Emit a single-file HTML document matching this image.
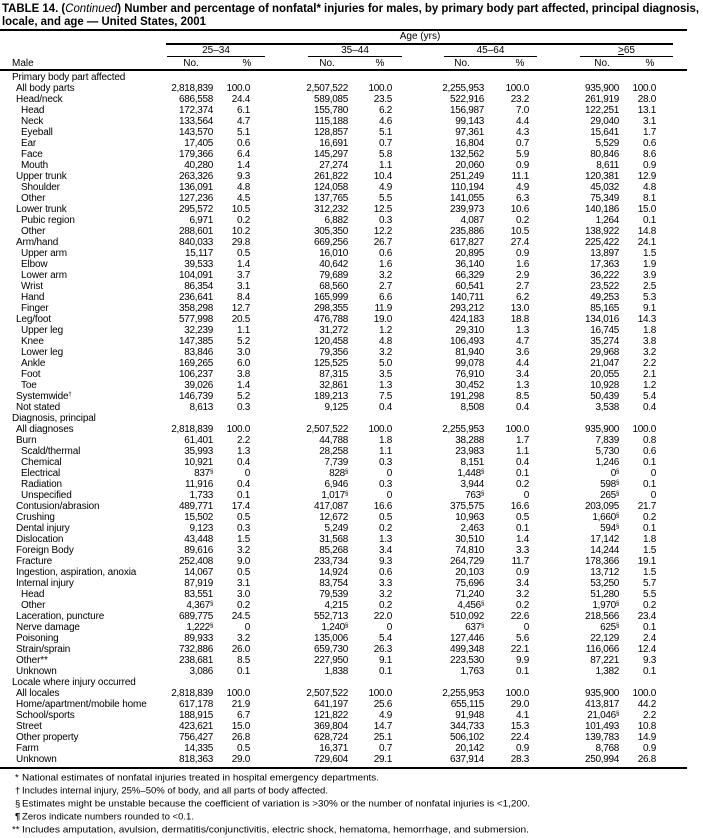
<!DOCTYPE html>
<html><head><meta charset="utf-8">
<style>
*{margin:0;padding:0;box-sizing:border-box}
body{width:703px;height:836px;background:#fff;position:relative;overflow:hidden;font-family:"Liberation Sans",Arial,sans-serif;color:#000}
.a{position:absolute;white-space:nowrap;font-size:10px;line-height:11px}
.rule{position:absolute;background:#000}
#rows{position:absolute;left:0;top:71.5px;width:703px}
.r{height:11px;line-height:11px;position:relative;font-size:10px;white-space:nowrap}
.r span{position:absolute;top:0;text-align:right;letter-spacing:-0.3px}
.r .l{left:12px;text-align:left;letter-spacing:-0.15px}
.r.i1 .l{left:16px}.r.i2 .l{left:21px}
.r span:nth-child(2){right:490px}
.r span:nth-child(3){right:453px}
.r span:nth-child(4){right:355px}
.r span:nth-child(5){right:311px}
.r span:nth-child(6){right:219px}
.r span:nth-child(7){right:174px}
.r span:nth-child(8){right:84px}
.r span:nth-child(9){right:47px}
sup{font-size:6px;vertical-align:top;position:relative;top:-1px}
</style></head><body>
<svg width="703" height="30" style="position:absolute;left:0;top:0">
<text x="2" y="12" font-family="Liberation Sans, Arial, sans-serif" font-size="11.5" font-weight="bold" textLength="697" lengthAdjust="spacingAndGlyphs">TABLE 14. (<tspan font-style="italic" font-weight="normal">Continued</tspan>) Number and percentage of nonfatal* injuries for males, by primary body part affected, principal diagnosis,</text>
<text x="2" y="25" font-family="Liberation Sans, Arial, sans-serif" font-size="11.5" font-weight="bold" textLength="204" lengthAdjust="spacingAndGlyphs">locale, and age — United States, 2001</text>
</svg>
<div class="rule" style="left:0;top:29px;width:687px;height:2px"></div>
<div class="a" style="left:380px;top:31px;width:80px;text-align:center">Age (yrs)</div>
<div class="rule" style="left:166px;top:43px;width:507px;height:1.5px"></div>
<div class="a" style="left:167px;top:44.5px;width:98px;text-align:center">25–34</div>
<div class="a" style="left:308px;top:44.5px;width:94px;text-align:center">35–44</div>
<div class="a" style="left:444px;top:44.5px;width:93px;text-align:center">45–64</div>
<div class="a" style="left:580px;top:44.5px;width:93px;text-align:center"><u>&gt;</u>65</div>
<div class="rule" style="left:167px;top:55.5px;width:98px;height:1.5px"></div>
<div class="rule" style="left:308px;top:55.5px;width:94px;height:1.5px"></div>
<div class="rule" style="left:444px;top:55.5px;width:93px;height:1.5px"></div>
<div class="rule" style="left:580px;top:55.5px;width:93px;height:1.5px"></div>
<div class="a" style="left:12px;top:57.5px">Male</div>
<div class="a" style="left:176px;top:57.5px;width:30px;text-align:center">No.</div>
<div class="a" style="left:237px;top:57.5px;width:20px;text-align:center">%</div>
<div class="a" style="left:312px;top:57.5px;width:30px;text-align:center">No.</div>
<div class="a" style="left:370px;top:57.5px;width:20px;text-align:center">%</div>
<div class="a" style="left:447px;top:57.5px;width:30px;text-align:center">No.</div>
<div class="a" style="left:510px;top:57.5px;width:20px;text-align:center">%</div>
<div class="a" style="left:587px;top:57.5px;width:30px;text-align:center">No.</div>
<div class="a" style="left:640px;top:57.5px;width:20px;text-align:center">%</div>
<div class="rule" style="left:0;top:68.5px;width:687px;height:2px"></div>

<div id="rows">
<div class="r"><span class="l">Primary body part affected</span></div>
<div class="r i1"><span class="l">All body parts</span><span>2,818,839</span><span>100.0</span><span>2,507,522</span><span>100.0</span><span>2,255,953</span><span>100.0</span><span>935,900</span><span>100.0</span></div>
<div class="r i1"><span class="l">Head/neck</span><span>686,558</span><span>24.4</span><span>589,085</span><span>23.5</span><span>522,916</span><span>23.2</span><span>261,919</span><span>28.0</span></div>
<div class="r i2"><span class="l">Head</span><span>172,374</span><span>6.1</span><span>155,780</span><span>6.2</span><span>156,987</span><span>7.0</span><span>122,251</span><span>13.1</span></div>
<div class="r i2"><span class="l">Neck</span><span>133,564</span><span>4.7</span><span>115,188</span><span>4.6</span><span>99,143</span><span>4.4</span><span>29,040</span><span>3.1</span></div>
<div class="r i2"><span class="l">Eyeball</span><span>143,570</span><span>5.1</span><span>128,857</span><span>5.1</span><span>97,361</span><span>4.3</span><span>15,641</span><span>1.7</span></div>
<div class="r i2"><span class="l">Ear</span><span>17,405</span><span>0.6</span><span>16,691</span><span>0.7</span><span>16,804</span><span>0.7</span><span>5,529</span><span>0.6</span></div>
<div class="r i2"><span class="l">Face</span><span>179,366</span><span>6.4</span><span>145,297</span><span>5.8</span><span>132,562</span><span>5.9</span><span>80,846</span><span>8.6</span></div>
<div class="r i2"><span class="l">Mouth</span><span>40,280</span><span>1.4</span><span>27,274</span><span>1.1</span><span>20,060</span><span>0.9</span><span>8,611</span><span>0.9</span></div>
<div class="r i1"><span class="l">Upper trunk</span><span>263,326</span><span>9.3</span><span>261,822</span><span>10.4</span><span>251,249</span><span>11.1</span><span>120,381</span><span>12.9</span></div>
<div class="r i2"><span class="l">Shoulder</span><span>136,091</span><span>4.8</span><span>124,058</span><span>4.9</span><span>110,194</span><span>4.9</span><span>45,032</span><span>4.8</span></div>
<div class="r i2"><span class="l">Other</span><span>127,236</span><span>4.5</span><span>137,765</span><span>5.5</span><span>141,055</span><span>6.3</span><span>75,349</span><span>8.1</span></div>
<div class="r i1"><span class="l">Lower trunk</span><span>295,572</span><span>10.5</span><span>312,232</span><span>12.5</span><span>239,973</span><span>10.6</span><span>140,186</span><span>15.0</span></div>
<div class="r i2"><span class="l">Pubic region</span><span>6,971</span><span>0.2</span><span>6,882</span><span>0.3</span><span>4,087</span><span>0.2</span><span>1,264</span><span>0.1</span></div>
<div class="r i2"><span class="l">Other</span><span>288,601</span><span>10.2</span><span>305,350</span><span>12.2</span><span>235,886</span><span>10.5</span><span>138,922</span><span>14.8</span></div>
<div class="r i1"><span class="l">Arm/hand</span><span>840,033</span><span>29.8</span><span>669,256</span><span>26.7</span><span>617,827</span><span>27.4</span><span>225,422</span><span>24.1</span></div>
<div class="r i2"><span class="l">Upper arm</span><span>15,117</span><span>0.5</span><span>16,010</span><span>0.6</span><span>20,895</span><span>0.9</span><span>13,897</span><span>1.5</span></div>
<div class="r i2"><span class="l">Elbow</span><span>39,533</span><span>1.4</span><span>40,642</span><span>1.6</span><span>36,140</span><span>1.6</span><span>17,363</span><span>1.9</span></div>
<div class="r i2"><span class="l">Lower arm</span><span>104,091</span><span>3.7</span><span>79,689</span><span>3.2</span><span>66,329</span><span>2.9</span><span>36,222</span><span>3.9</span></div>
<div class="r i2"><span class="l">Wrist</span><span>86,354</span><span>3.1</span><span>68,560</span><span>2.7</span><span>60,541</span><span>2.7</span><span>23,522</span><span>2.5</span></div>
<div class="r i2"><span class="l">Hand</span><span>236,641</span><span>8.4</span><span>165,999</span><span>6.6</span><span>140,711</span><span>6.2</span><span>49,253</span><span>5.3</span></div>
<div class="r i2"><span class="l">Finger</span><span>358,298</span><span>12.7</span><span>298,355</span><span>11.9</span><span>293,212</span><span>13.0</span><span>85,165</span><span>9.1</span></div>
<div class="r i1"><span class="l">Leg/foot</span><span>577,998</span><span>20.5</span><span>476,788</span><span>19.0</span><span>424,183</span><span>18.8</span><span>134,016</span><span>14.3</span></div>
<div class="r i2"><span class="l">Upper leg</span><span>32,239</span><span>1.1</span><span>31,272</span><span>1.2</span><span>29,310</span><span>1.3</span><span>16,745</span><span>1.8</span></div>
<div class="r i2"><span class="l">Knee</span><span>147,385</span><span>5.2</span><span>120,458</span><span>4.8</span><span>106,493</span><span>4.7</span><span>35,274</span><span>3.8</span></div>
<div class="r i2"><span class="l">Lower leg</span><span>83,846</span><span>3.0</span><span>79,356</span><span>3.2</span><span>81,940</span><span>3.6</span><span>29,968</span><span>3.2</span></div>
<div class="r i2"><span class="l">Ankle</span><span>169,265</span><span>6.0</span><span>125,525</span><span>5.0</span><span>99,078</span><span>4.4</span><span>21,047</span><span>2.2</span></div>
<div class="r i2"><span class="l">Foot</span><span>106,237</span><span>3.8</span><span>87,315</span><span>3.5</span><span>76,910</span><span>3.4</span><span>20,055</span><span>2.1</span></div>
<div class="r i2"><span class="l">Toe</span><span>39,026</span><span>1.4</span><span>32,861</span><span>1.3</span><span>30,452</span><span>1.3</span><span>10,928</span><span>1.2</span></div>
<div class="r i1"><span class="l">Systemwide<sup>†</sup></span><span>146,739</span><span>5.2</span><span>189,213</span><span>7.5</span><span>191,298</span><span>8.5</span><span>50,439</span><span>5.4</span></div>
<div class="r i1"><span class="l">Not stated</span><span>8,613</span><span>0.3</span><span>9,125</span><span>0.4</span><span>8,508</span><span>0.4</span><span>3,538</span><span>0.4</span></div>
<div class="r"><span class="l">Diagnosis, principal</span></div>
<div class="r i1"><span class="l">All diagnoses</span><span>2,818,839</span><span>100.0</span><span>2,507,522</span><span>100.0</span><span>2,255,953</span><span>100.0</span><span>935,900</span><span>100.0</span></div>
<div class="r i1"><span class="l">Burn</span><span>61,401</span><span>2.2</span><span>44,788</span><span>1.8</span><span>38,288</span><span>1.7</span><span>7,839</span><span>0.8</span></div>
<div class="r i2"><span class="l">Scald/thermal</span><span>35,993</span><span>1.3</span><span>28,258</span><span>1.1</span><span>23,983</span><span>1.1</span><span>5,730</span><span>0.6</span></div>
<div class="r i2"><span class="l">Chemical</span><span>10,921</span><span>0.4</span><span>7,739</span><span>0.3</span><span>8,151</span><span>0.4</span><span>1,246</span><span>0.1</span></div>
<div class="r i2"><span class="l">Electrical</span><span>837<sup>§</sup></span><span>0</span><span>828<sup>§</sup></span><span>0</span><span>1,448<sup>§</sup></span><span>0.1</span><span>0<sup>§</sup></span><span>0</span></div>
<div class="r i2"><span class="l">Radiation</span><span>11,916</span><span>0.4</span><span>6,946</span><span>0.3</span><span>3,944</span><span>0.2</span><span>598<sup>§</sup></span><span>0.1</span></div>
<div class="r i2"><span class="l">Unspecified</span><span>1,733</span><span>0.1</span><span>1,017<sup>§</sup></span><span>0</span><span>763<sup>§</sup></span><span>0</span><span>265<sup>§</sup></span><span>0</span></div>
<div class="r i1"><span class="l">Contusion/abrasion</span><span>489,771</span><span>17.4</span><span>417,087</span><span>16.6</span><span>375,575</span><span>16.6</span><span>203,095</span><span>21.7</span></div>
<div class="r i1"><span class="l">Crushing</span><span>15,502</span><span>0.5</span><span>12,672</span><span>0.5</span><span>10,963</span><span>0.5</span><span>1,660<sup>§</sup></span><span>0.2</span></div>
<div class="r i1"><span class="l">Dental injury</span><span>9,123</span><span>0.3</span><span>5,249</span><span>0.2</span><span>2,463</span><span>0.1</span><span>594<sup>§</sup></span><span>0.1</span></div>
<div class="r i1"><span class="l">Dislocation</span><span>43,448</span><span>1.5</span><span>31,568</span><span>1.3</span><span>30,510</span><span>1.4</span><span>17,142</span><span>1.8</span></div>
<div class="r i1"><span class="l">Foreign Body</span><span>89,616</span><span>3.2</span><span>85,268</span><span>3.4</span><span>74,810</span><span>3.3</span><span>14,244</span><span>1.5</span></div>
<div class="r i1"><span class="l">Fracture</span><span>252,408</span><span>9.0</span><span>233,734</span><span>9.3</span><span>264,729</span><span>11.7</span><span>178,366</span><span>19.1</span></div>
<div class="r i1"><span class="l">Ingestion, aspiration, anoxia</span><span>14,067</span><span>0.5</span><span>14,924</span><span>0.6</span><span>20,103</span><span>0.9</span><span>13,712</span><span>1.5</span></div>
<div class="r i1"><span class="l">Internal injury</span><span>87,919</span><span>3.1</span><span>83,754</span><span>3.3</span><span>75,696</span><span>3.4</span><span>53,250</span><span>5.7</span></div>
<div class="r i2"><span class="l">Head</span><span>83,551</span><span>3.0</span><span>79,539</span><span>3.2</span><span>71,240</span><span>3.2</span><span>51,280</span><span>5.5</span></div>
<div class="r i2"><span class="l">Other</span><span>4,367<sup>§</sup></span><span>0.2</span><span>4,215</span><span>0.2</span><span>4,456<sup>§</sup></span><span>0.2</span><span>1,970<sup>§</sup></span><span>0.2</span></div>
<div class="r i1"><span class="l">Laceration, puncture</span><span>689,775</span><span>24.5</span><span>552,713</span><span>22.0</span><span>510,092</span><span>22.6</span><span>218,566</span><span>23.4</span></div>
<div class="r i1"><span class="l">Nerve damage</span><span>1,222<sup>§</sup></span><span>0</span><span>1,240<sup>§</sup></span><span>0</span><span>637<sup>§</sup></span><span>0</span><span>625<sup>§</sup></span><span>0.1</span></div>
<div class="r i1"><span class="l">Poisoning</span><span>89,933</span><span>3.2</span><span>135,006</span><span>5.4</span><span>127,446</span><span>5.6</span><span>22,129</span><span>2.4</span></div>
<div class="r i1"><span class="l">Strain/sprain</span><span>732,886</span><span>26.0</span><span>659,730</span><span>26.3</span><span>499,348</span><span>22.1</span><span>116,066</span><span>12.4</span></div>
<div class="r i1"><span class="l">Other**</span><span>238,681</span><span>8.5</span><span>227,950</span><span>9.1</span><span>223,530</span><span>9.9</span><span>87,221</span><span>9.3</span></div>
<div class="r i1"><span class="l">Unknown</span><span>3,086</span><span>0.1</span><span>1,838</span><span>0.1</span><span>1,763</span><span>0.1</span><span>1,382</span><span>0.1</span></div>
<div class="r"><span class="l">Locale where injury occurred</span></div>
<div class="r i1"><span class="l">All locales</span><span>2,818,839</span><span>100.0</span><span>2,507,522</span><span>100.0</span><span>2,255,953</span><span>100.0</span><span>935,900</span><span>100.0</span></div>
<div class="r i1"><span class="l">Home/apartment/mobile home</span><span>617,178</span><span>21.9</span><span>641,197</span><span>25.6</span><span>655,115</span><span>29.0</span><span>413,817</span><span>44.2</span></div>
<div class="r i1"><span class="l">School/sports</span><span>188,915</span><span>6.7</span><span>121,822</span><span>4.9</span><span>91,948</span><span>4.1</span><span>21,046<sup>§</sup></span><span>2.2</span></div>
<div class="r i1"><span class="l">Street</span><span>423,621</span><span>15.0</span><span>369,804</span><span>14.7</span><span>344,733</span><span>15.3</span><span>101,493</span><span>10.8</span></div>
<div class="r i1"><span class="l">Other property</span><span>756,427</span><span>26.8</span><span>628,724</span><span>25.1</span><span>506,102</span><span>22.4</span><span>139,783</span><span>14.9</span></div>
<div class="r i1"><span class="l">Farm</span><span>14,335</span><span>0.5</span><span>16,371</span><span>0.7</span><span>20,142</span><span>0.9</span><span>8,768</span><span>0.9</span></div>
<div class="r i1"><span class="l">Unknown</span><span>818,363</span><span>29.0</span><span>729,604</span><span>29.1</span><span>637,914</span><span>28.3</span><span>250,994</span><span>26.8</span></div>
</div>
<div class="rule" style="left:0;top:766.5px;width:687px;height:2px"></div>
<svg width="703" height="70" style="position:absolute;left:0;top:768px" font-family="Liberation Sans, Arial, sans-serif" font-size="9.5">
<text x="15" y="12.5">*</text><text x="22" y="12.5" textLength="357" lengthAdjust="spacingAndGlyphs">National estimates of nonfatal injuries treated in hospital emergency departments.</text>
<text x="15" y="25.5">†</text><text x="22" y="25.5" textLength="306" lengthAdjust="spacingAndGlyphs">Includes internal injury, 25%–50% of body, and all parts of body affected.</text>
<text x="15" y="38.5">§</text><text x="22" y="38.5" textLength="508" lengthAdjust="spacingAndGlyphs">Estimates might be unstable because the coefficient of variation is &gt;30% or the number of nonfatal injuries is &lt;1,200.</text>
<text x="15" y="51.5" font-weight="bold">¶</text><text x="22" y="51.5" textLength="172" lengthAdjust="spacingAndGlyphs">Zeros indicate numbers rounded to &lt;0.1.</text>
<text x="12" y="64.5">**</text><text x="22" y="64.5" textLength="507" lengthAdjust="spacingAndGlyphs">Includes amputation, avulsion, dermatitis/conjunctivitis, electric shock, hematoma, hemorrhage, and submersion.</text>
</svg>
</body></html>
